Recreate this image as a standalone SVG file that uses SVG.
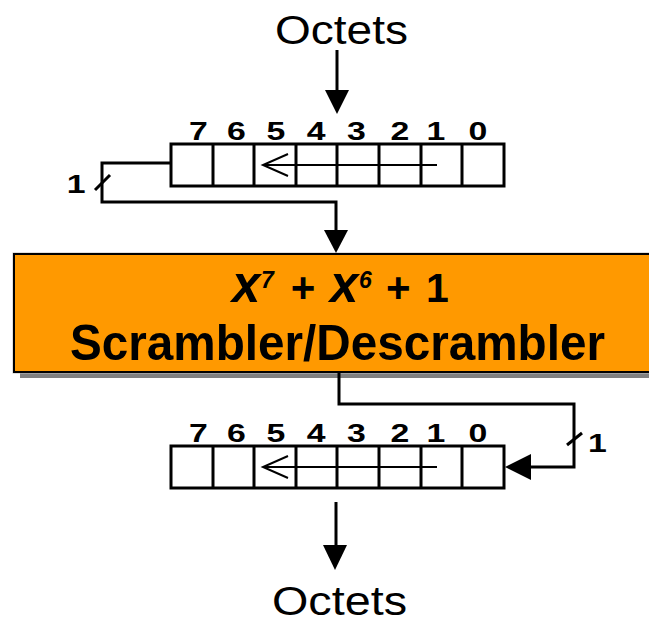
<svg xmlns="http://www.w3.org/2000/svg" width="649" height="623" viewBox="0 0 649 623">
  <style>
    .wire { fill: none; stroke: #000; stroke-width: 3; }
    .cell { fill: #fff; stroke: #000; stroke-width: 3; }
    .shift { fill: none; stroke: #000; stroke-width: 2; }
    .head { fill: #000; stroke: none; }
    .bit { font-family: "Liberation Sans", Arial, sans-serif; font-weight: bold; font-size: 26px; text-anchor: middle; fill: #000; }
    .big { font-family: "Liberation Sans", Arial, sans-serif; font-size: 41px; fill: #000; }
    .title { font-family: "Liberation Sans", Arial, sans-serif; font-weight: bold; fill: #000; }
  </style>
  <defs>
    <g id="cells">
      <rect class="cell" x="171" y="0" width="333" height="42"/>
      <path class="wire" d="M213 0V42M254 0V42M296 0V42M337 0V42M379 0V42M421 0V42M462 0V42"/>
      <path class="shift" d="M437 21H263M288 10L263 21L288 32"/>
    </g>
  </defs>

  <!-- input label -->
  <g id="octets-in">
    <text class="big" x="275" y="44" textLength="133" lengthAdjust="spacingAndGlyphs">Octets</text>
  </g>

  <!-- upper shift register; bit numbers use a horizontally widened face -->
  <g id="register-in">
    <use href="#cells" y="144"/>
    <g transform="scale(1.3 1)">
      <text class="bit" x="152.7" y="140">7</text>
      <text class="bit" x="181.9" y="140">6</text>
      <text class="bit" x="212.3" y="140">5</text>
      <text class="bit" x="243.1" y="140">4</text>
      <text class="bit" x="274.2" y="140">3</text>
      <text class="bit" x="307.7" y="140">2</text>
      <text class="bit" x="335.4" y="140">1</text>
      <text class="bit" x="367.7" y="140">0</text>
    </g>
  </g>

  <!-- scrambler block -->
  <g id="scrambler">
    <rect x="20" y="260" width="660" height="118" fill="#808080"/>
    <rect x="13" y="253" width="660" height="120" fill="none" stroke="#c0c0c0" stroke-width="1"/>
    <rect x="14" y="254" width="660" height="118" fill="#ff9900" stroke="#000" stroke-width="2"/>
    <text class="title" y="302">
      <tspan x="232" font-size="51" font-style="italic">x</tspan><tspan x="261" y="288" font-size="23" font-style="italic">7</tspan><tspan x="290" y="302" font-size="42" font-style="italic">+</tspan><tspan x="330" font-size="51" font-style="italic">x</tspan><tspan x="359" y="288" font-size="23" font-style="italic">6</tspan><tspan x="386" y="302" font-size="42">+</tspan><tspan x="426" font-size="41">1</tspan>
    </text>
    <text class="title" x="70" y="360" font-size="50" textLength="535" lengthAdjust="spacingAndGlyphs">Scrambler/Descrambler</text>
  </g>

  <!-- lower shift register -->
  <g id="register-out">
    <use href="#cells" y="446"/>
    <g transform="scale(1.3 1)">
      <text class="bit" x="152.7" y="442">7</text>
      <text class="bit" x="181.9" y="442">6</text>
      <text class="bit" x="212.3" y="442">5</text>
      <text class="bit" x="243.1" y="442">4</text>
      <text class="bit" x="274.2" y="442">3</text>
      <text class="bit" x="307.7" y="442">2</text>
      <text class="bit" x="335.4" y="442">1</text>
      <text class="bit" x="367.7" y="442">0</text>
    </g>
  </g>

  <!-- output label -->
  <g id="octets-out">
    <text class="big" x="272" y="615" textLength="135" lengthAdjust="spacingAndGlyphs">Octets</text>
  </g>

  <!-- connectors -->
  <g id="connectors">
    <path class="wire" d="M337 50V92"/>
    <polygon class="head" points="325,90 349,90 337,114"/>

    <path class="wire" d="M171 163H102V202H336V232"/>
    <polygon class="head" points="324,230 348,230 336,253"/>
    <path class="wire" d="M95 190L110 175"/>
    <text class="bit" transform="scale(1.3 1)" x="58.5" y="193">1</text>

    <path class="wire" d="M339 373V404H574V467H528"/>
    <polygon class="head" points="505,467 531,454 531,480"/>
    <path class="wire" d="M567 445L582 433"/>
    <text class="bit" transform="scale(1.3 1)" x="459.6" y="452">1</text>

    <path class="wire" d="M336 502V547"/>
    <polygon class="head" points="323,545 347,545 335,570"/>
  </g>
</svg>
